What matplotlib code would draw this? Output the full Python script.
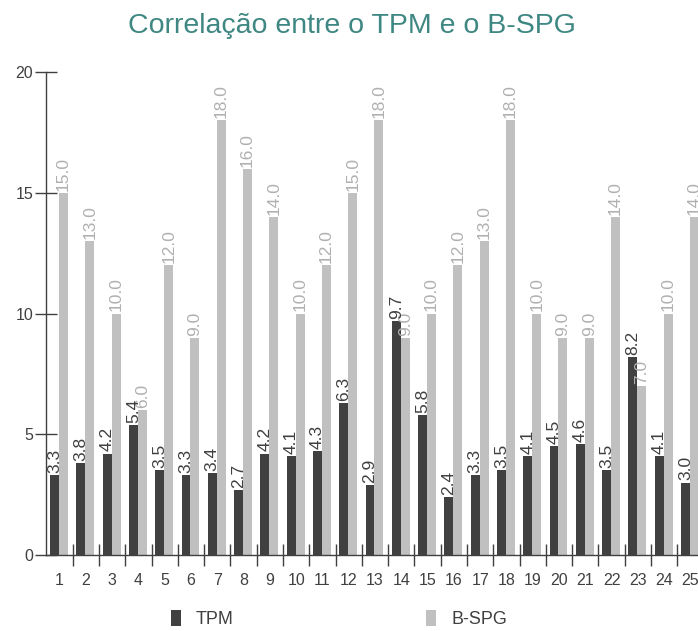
import matplotlib
matplotlib.use("Agg")
import matplotlib.pyplot as plt
import numpy as np

categories = [str(i) for i in range(1, 26)]
tpm = [3.3, 3.8, 4.2, 5.4, 3.5, 3.3, 3.4, 2.7, 4.2, 4.1, 4.3, 6.3, 2.9, 9.7, 5.8,
       2.4, 3.3, 3.5, 4.1, 4.5, 4.6, 3.5, 8.2, 4.1, 3.0]
bspg = [15.0, 13.0, 10.0, 6.0, 12.0, 9.0, 18.0, 16.0, 14.0, 10.0, 12.0, 15.0, 18.0, 9.0,
        10.0, 12.0, 13.0, 18.0, 10.0, 9.0, 9.0, 14.0, 7.0, 10.0, 14.0]
series_names = ["TPM", "B-SPG"]
yticks = [0, 5, 10, 15, 20]
title = "Correlação entre o TPM e o B-SPG"

dark = "#404040"
light = "#c0c0c0"
light_text = "#b0b0b0"
axis_col = "#404040"

plt.rcParams['font.family'] = ['Liberation Sans', 'DejaVu Sans']

W, H = 698, 631
fig = plt.figure(figsize=(W / 100, H / 100), dpi=100)
left_px, right_px, bot_px, top_px = 46.4, 703.6, 555, 72
ax = fig.add_axes([left_px / W, (H - bot_px) / H, (right_px - left_px) / W, (bot_px - top_px) / H])

x = np.arange(1, len(categories) + 1)
bw = 0.34
b1 = ax.bar(x - 0.02 - bw / 2, tpm, width=bw, color=dark, label=series_names[0], zorder=2)
b2 = ax.bar(x - 0.02 + bw / 2, bspg, width=bw, color=light, label=series_names[1], zorder=1)

for xi, v in zip(x - 0.02 - bw / 2, tpm):
    ax.annotate(f"{v:.1f}", (xi, v), xytext=(0, 1.5), textcoords="offset points",
                rotation=90, ha="center", va="bottom", fontsize=12.5, color=dark,
                annotation_clip=False, zorder=4)
for xi, v in zip(x - 0.02 + bw / 2, bspg):
    ax.annotate(f"{v:.1f}", (xi, v), xytext=(0, 1.5), textcoords="offset points",
                rotation=90, ha="center", va="bottom", fontsize=12.5, color=light_text,
                annotation_clip=False, zorder=3)

ax.set_xlim(0.5, len(categories) + 0.5)
ax.set_ylim(0, 20)
ax.set_xticks(x)
ax.set_xticklabels(categories)
ax.set_xticks(np.arange(1.5, len(categories) + 0.5, 1), minor=True)
ax.tick_params(axis="x", which="major", length=0, pad=13, labelsize=11.5, labelcolor=axis_col)
ax.tick_params(axis="x", which="minor", length=16, direction="inout", color=axis_col, width=1)
ax.set_yticks(yticks)
ax.tick_params(axis="y", which="major", length=16, direction="inout", color=axis_col, width=1,
               pad=1.5, labelsize=11.5, labelcolor=axis_col)
for s in ["top", "right"]:
    ax.spines[s].set_visible(False)
for s in ["left", "bottom"]:
    ax.spines[s].set_color(axis_col)
    ax.spines[s].set_linewidth(1)

fig.text(351.5 / W, 1 - 33 / H, title, ha="center", va="baseline", fontsize=20.5, color="#3f8782")

fig.legend(handles=[b1, b2], labels=series_names, loc="center left",
           bbox_to_anchor=(170.7 / W, 1 - 619 / H),
           ncol=2, frameon=False, borderpad=0, borderaxespad=0,
           handlelength=0.56, handleheight=1.0, handletextpad=0.83,
           columnspacing=10.65, fontsize=13, labelcolor=axis_col)

fig.savefig("out.png", dpi=100)
